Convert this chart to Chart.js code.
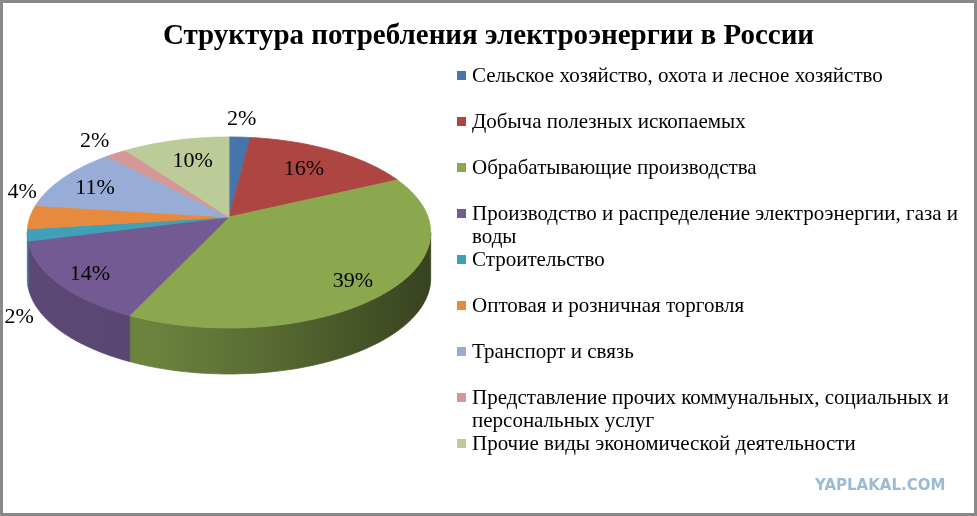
<!DOCTYPE html>
<html>
<head>
  <meta charset="utf-8">
  <script src="https://cdn.jsdelivr.net/npm/chart.js"></script>
  <style>
    body { margin: 0; background: #fff; }
    #wrap { position: relative; width: 977px; height: 516px; overflow: hidden; }
    #frame {
      position: absolute; left: 0; top: 0; width: 977px; height: 516px;
      box-sizing: border-box; border: 3px solid #898989; pointer-events: none;
    }
    #legend {
      position: absolute; left: 457px; top: 0;
      font-family: "Liberation Serif", "Times New Roman", serif;
      font-size: 21px; color: #000;
    }
    .item { position: absolute; left: 0; width: 510px; line-height: 23px; }
    .box { position: absolute; left: 0; top: 7px; width: 9px; height: 9px; }
    .txt { margin-left: 15px; width: 492px; }
    #mark {
      position: absolute; left: 815px; top: 476px;
      font-family: "DejaVu Sans", sans-serif; font-weight: bold; font-size: 15px;
      color: #9cbad2;
    }
  </style>
</head>
<body>
<div id="wrap">
  <canvas id="pieChart" width="977" height="516"></canvas>
  <div id="legend"></div>
  <div id="mark">YAPLAKAL.COM</div>
  <div id="frame"></div>
</div>

<script>
  // data (shares, %)
  var categories = [
    'Сельское хозяйство, охота и лесное хозяйство',
    'Добыча полезных ископаемых',
    'Обрабатывающие производства',
    'Производство и распределение электроэнергии, газа и воды',
    'Строительство',
    'Оптовая и розничная торговля',
    'Транспорт и связь',
    'Представление прочих коммунальных, социальных и персональных услуг',
    'Прочие виды экономической деятельности'
  ];
  var shares = [2, 16, 39, 14, 2, 4, 11, 2, 10];
  var pctLabels = ['2%', '16%', '39%', '14%', '2%', '4%', '11%', '2%', '10%'];

  var colors = ['#4775ab', '#ad4643', '#8ba84f', '#735a92', '#40a0b8',
                '#e88a3e', '#97acd6', '#d69797', '#bccb98'];

  // placement of the percent labels (radius factor and vertical nudge)
  var labelR  = [1.2, 0.7, 0.8, 0.83, 1.04, 1.04, 0.8, 1.22, 0.65];
  var labelDy = [-4, 0, 6, 3, 82, -25, 3, 0, -4];

  // 3d pie geometry on the page (p = perspective strength)
  var PX = 229, PY = 217, RX = 199, RY = 93, DEPTH = 46, P = 0.162;

  function proj(a, f) {
    var u = f * Math.cos(a), v = f * Math.sin(a);
    var w = 1 / (1 - P * v);
    return [PX + RX * u * w, PY + RY * v * w];
  }

  function shade(hex, f) {
    var n = parseInt(hex.slice(1), 16);
    var r = Math.round(((n >> 16) & 255) * f);
    var g = Math.round(((n >> 8) & 255) * f);
    var b = Math.round((n & 255) * f);
    return 'rgb(' + r + ',' + g + ',' + b + ')';
  }

  function arcPoints(a1, a2) {
    var pts = [];
    var n = Math.max(2, Math.ceil((a2 - a1) * 60));
    for (var k = 0; k <= n; k++) pts.push(proj(a1 + (a2 - a1) * k / n, 1));
    return pts;
  }

  var pie3d = {
    id: 'pie3d',
    beforeDatasetsDraw: function(chart) {
      var ctx = chart.ctx;
      var arcs = chart.getDatasetMeta(0).data;
      var edge = Math.asin(P);

      // side walls, only the part facing the viewer
      arcs.forEach(function(el, i) {
        var lo = Math.max(el.startAngle, edge);
        var hi = Math.min(el.endAngle, Math.PI - edge);
        if (hi <= lo) return;
        var top = arcPoints(lo, hi);
        var grad = ctx.createLinearGradient(PX - RX, 0, PX + RX, 0);
        grad.addColorStop(0, shade(colors[i], 0.8));
        grad.addColorStop(0.3, shade(colors[i], 0.78));
        grad.addColorStop(0.55, shade(colors[i], 0.66));
        grad.addColorStop(1, shade(colors[i], 0.4));
        ctx.save();
        ctx.beginPath();
        top.forEach(function(p, k) { k ? ctx.lineTo(p[0], p[1]) : ctx.moveTo(p[0], p[1]); });
        for (var k = top.length - 1; k >= 0; k--) ctx.lineTo(top[k][0], top[k][1] + DEPTH);
        ctx.closePath();
        ctx.fillStyle = grad;
        ctx.strokeStyle = grad;
        ctx.lineWidth = 0.8;
        ctx.fill();
        ctx.stroke();
        ctx.restore();
      });

      // top face from the library's arc angles
      arcs.forEach(function(el, i) {
        var pts = arcPoints(el.startAngle, el.endAngle);
        ctx.save();
        ctx.beginPath();
        ctx.moveTo(PX, PY);
        pts.forEach(function(p) { ctx.lineTo(p[0], p[1]); });
        ctx.closePath();
        ctx.fillStyle = colors[i];
        ctx.strokeStyle = colors[i];
        ctx.lineWidth = 0.8;
        ctx.fill();
        ctx.stroke();
        ctx.restore();
      });
      return false;
    },
    afterDraw: function(chart) {
      var ctx = chart.ctx;
      var arcs = chart.getDatasetMeta(0).data;
      ctx.save();
      ctx.font = '22px "Liberation Serif", "Times New Roman", serif';
      ctx.fillStyle = '#000';
      ctx.textAlign = 'center';
      ctx.textBaseline = 'middle';
      arcs.forEach(function(el, i) {
        var mid = (el.startAngle + el.endAngle) / 2;
        var p = proj(mid, labelR[i]);
        ctx.fillText(pctLabels[i], p[0], p[1] + labelDy[i]);
      });
      ctx.restore();
    }
  };

  var config = {
    type: 'pie',
    data: {
      labels: categories,
      datasets: [{
        data: shares,
        backgroundColor: colors,
        borderWidth: 0
      }]
    },
    options: {
      responsive: false,
      animation: false,
      events: [],
      plugins: {
        legend: { display: false },
        tooltip: { enabled: false },
        title: {
          display: true,
          text: 'Структура потребления электроэнергии в России',
          color: '#000',
          font: { family: '"Liberation Serif", "Times New Roman", serif', size: 29, weight: 'bold' },
          padding: { top: 19, bottom: 10 }
        }
      }
    },
    plugins: [pie3d]
  };

  var ctx = document.getElementById('pieChart').getContext('2d');
  new Chart(ctx, config);

  // legend on the right
  var legend = document.getElementById('legend');
  categories.forEach(function(name, i) {
    var item = document.createElement('div');
    item.className = 'item';
    item.style.top = (64 + 46 * i) + 'px';
    item.innerHTML = '<div class="box" style="background:' + colors[i] + '"></div>' +
      '<div class="txt"></div>';
    item.querySelector('.txt').textContent = name;
    legend.appendChild(item);
  });
</script>
</body>
</html>
